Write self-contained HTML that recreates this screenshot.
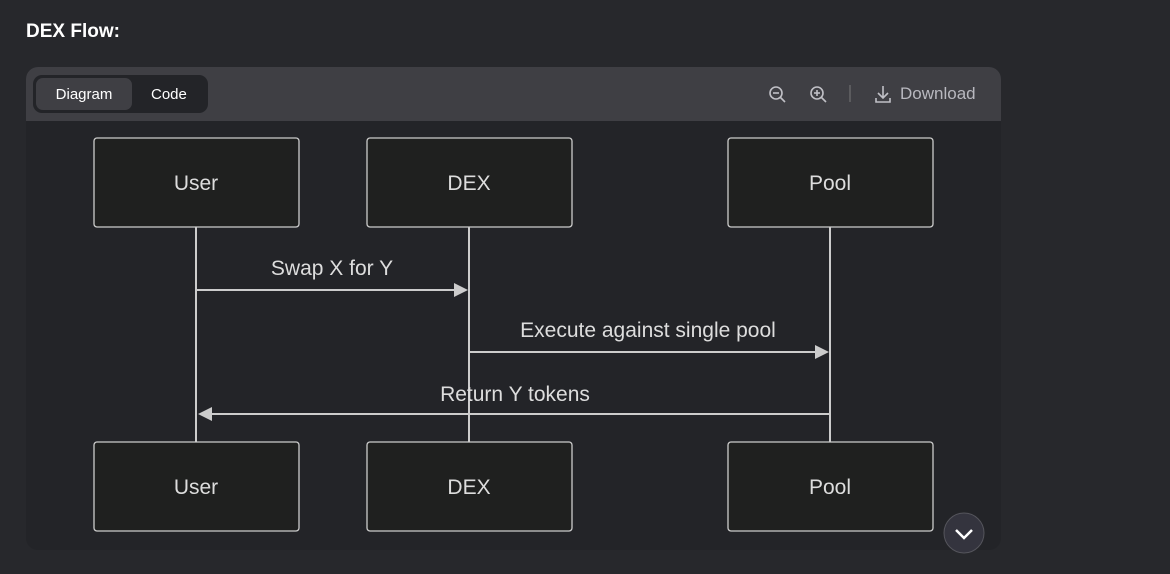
<!DOCTYPE html>
<html><head><style>
body{margin:0;width:1170px;height:574px;background:#27282c;font-family:"Liberation Sans",sans-serif;overflow:hidden;position:relative}
.t{position:absolute;left:26px;top:21px;color:#fff;font-weight:bold;font-size:19px}
.c{position:absolute;left:26px;top:67px;width:975px;height:483px;background:#232428;border-radius:12px;overflow:hidden}
.tb{position:absolute;left:0;top:0;width:975px;height:54px;background:#3f3f44}
.g{position:absolute;left:7px;top:8px;width:175px;height:38px;background:#232428;border-radius:9px}
.d{position:absolute;left:3px;top:3px;width:96px;height:32px;background:#3f3f44;border-radius:7px;color:#fff;font-size:15px;text-align:center;line-height:34px}
.co{position:absolute;left:118px;top:3px;color:#fff;font-size:15px;line-height:34px}
.dl{position:absolute;left:874px;top:17px;color:#b8b8bf;font-size:17px}
</style></head><body>
<div class="t">DEX Flow:</div>
<div class="c"><div class="tb"><div class="g"><div class="d">Diagram</div><div class="co">Code</div></div><div class="dl">Download</div></div></div>
<svg width="1170" height="574" style="position:absolute;left:0;top:0" font-family="Liberation Sans, sans-serif">
<g stroke="#c0c0c6" stroke-width="1.6" fill="none">
<circle cx="776" cy="93" r="6"/><line x1="780" y1="97" x2="785" y2="102"/><line x1="773" y1="93" x2="779" y2="93"/>
<circle cx="817" cy="93" r="6"/><line x1="821" y1="97" x2="826" y2="102"/><line x1="814" y1="93" x2="820" y2="93"/><line x1="817" y1="90" x2="817" y2="96"/>
<path d="M883 86v12M878 93l5 5 5-5M876 98v4h14v-4"/>
</g>
<line x1="850" y1="85" x2="850" y2="102" stroke="#777" stroke-width="1"/>
<g stroke="#ccc" stroke-width="2">
<line x1="196" y1="227" x2="196" y2="442"/><line x1="469" y1="227" x2="469" y2="442"/><line x1="830" y1="227" x2="830" y2="442"/>
<line x1="197" y1="290" x2="455" y2="290"/><line x1="470" y1="352" x2="816" y2="352"/><line x1="829" y1="414" x2="212" y2="414"/>
</g>
<g fill="#ccc"><path d="M468 290l-14-7v14z"/><path d="M829 352l-14-7v14z"/><path d="M198 414l14-7v14z"/></g>
<g fill="#1f201f" stroke="#ccc" stroke-width="1.3">
<rect x="94" y="138" width="205" height="89" rx="3"/><rect x="367" y="138" width="205" height="89" rx="3"/><rect x="728" y="138" width="205" height="89" rx="3"/>
<rect x="94" y="442" width="205" height="89" rx="3"/><rect x="367" y="442" width="205" height="89" rx="3"/><rect x="728" y="442" width="205" height="89" rx="3"/>
</g>
<g fill="#ddd" font-size="21" text-anchor="middle">
<text x="196" y="190">User</text><text x="469" y="190">DEX</text><text x="830" y="190">Pool</text>
<text x="196" y="494">User</text><text x="469" y="494">DEX</text><text x="830" y="494">Pool</text>
<text x="332" y="275">Swap X for Y</text><text x="648" y="337">Execute against single pool</text><text x="515" y="401">Return Y tokens</text>
</g>
<circle cx="964" cy="533" r="20" fill="#34343e" stroke="#55555c"/>
<path d="M956 530l8 8 8-8" stroke="#fff" stroke-width="2.5" fill="none"/>
</svg>
</body></html>
